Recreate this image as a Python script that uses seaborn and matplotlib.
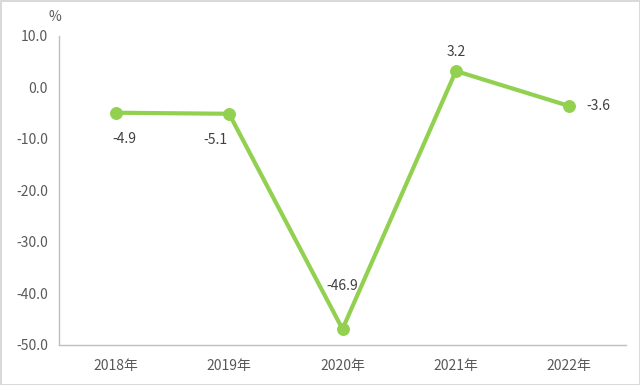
import matplotlib
matplotlib.use("Agg")
import matplotlib.pyplot as plt
import seaborn as sns
import pandas as pd

years = ["2018年", "2019年", "2020年", "2021年", "2022年"]
values = [-4.9, -5.1, -46.9, 3.2, -3.6]
yticks = [10.0, 0.0, -10.0, -20.0, -30.0, -40.0, -50.0]

sns.set_style("white")
plt.rcParams['font.family'] = ['Noto Sans CJK SC', 'DejaVu Sans']

df = pd.DataFrame({"year": years, "value": values})

fig = plt.figure(figsize=(6.4, 3.85), dpi=100, facecolor="white",
                 edgecolor="#d9d9d9", linewidth=2)
ax = fig.add_axes([59/640, 1-345/385, (626-59)/640, (345-36)/385])

green = "#92D050"
sns.lineplot(data=df, x="year", y="value", sort=False, ax=ax, color=green,
             linewidth=3, marker="o", markersize=8.5, markeredgecolor=green)

ax.set_xlim(-0.5, 4.5)
ax.set_ylim(-50, 10)
ax.set_yticks(yticks)
ax.set_yticklabels([f"{v:.1f}" for v in yticks])
ax.set_xlabel("")
ax.set_ylabel("")

txt = "#595959"
for s in ["top", "right"]:
    ax.spines[s].set_visible(False)
for s in ["left", "bottom"]:
    ax.spines[s].set_color("#bfbfbf")
    ax.spines[s].set_linewidth(1)

ax.set_xticks(range(len(years)))
ax.set_xticklabels(years)
ax.tick_params(axis="x", length=0, pad=10, labelsize=10, labelcolor=txt)
ax.set_xticks([i + 0.5 for i in range(len(years))], minor=True)
ax.tick_params(axis="x", which="minor", direction="in", length=6,
               color="#bfbfbf", width=1)
ax.tick_params(axis="y", direction="in", length=4, color="#bfbfbf",
               width=1, labelsize=10, labelcolor=txt, pad=8)

offsets = [(6.5, -19, "center", "center"), (-10, -19, "center", "center"),
           (0, 31, "center", "center"), (0, 14, "center", "center"),
           (12, 0, "left", "center")]
for i, (v, (dx, dy, ha, va)) in enumerate(zip(values, offsets)):
    ax.annotate(f"{v:.1f}", (i, v), xytext=(dx, dy), textcoords="offset points",
                ha=ha, va=va, fontsize=10, color="#404040")

fig.text(55/640, 1-17/385, "%", ha="center", va="center", fontsize=10, color=txt)

fig.savefig("out.png", dpi=100)
